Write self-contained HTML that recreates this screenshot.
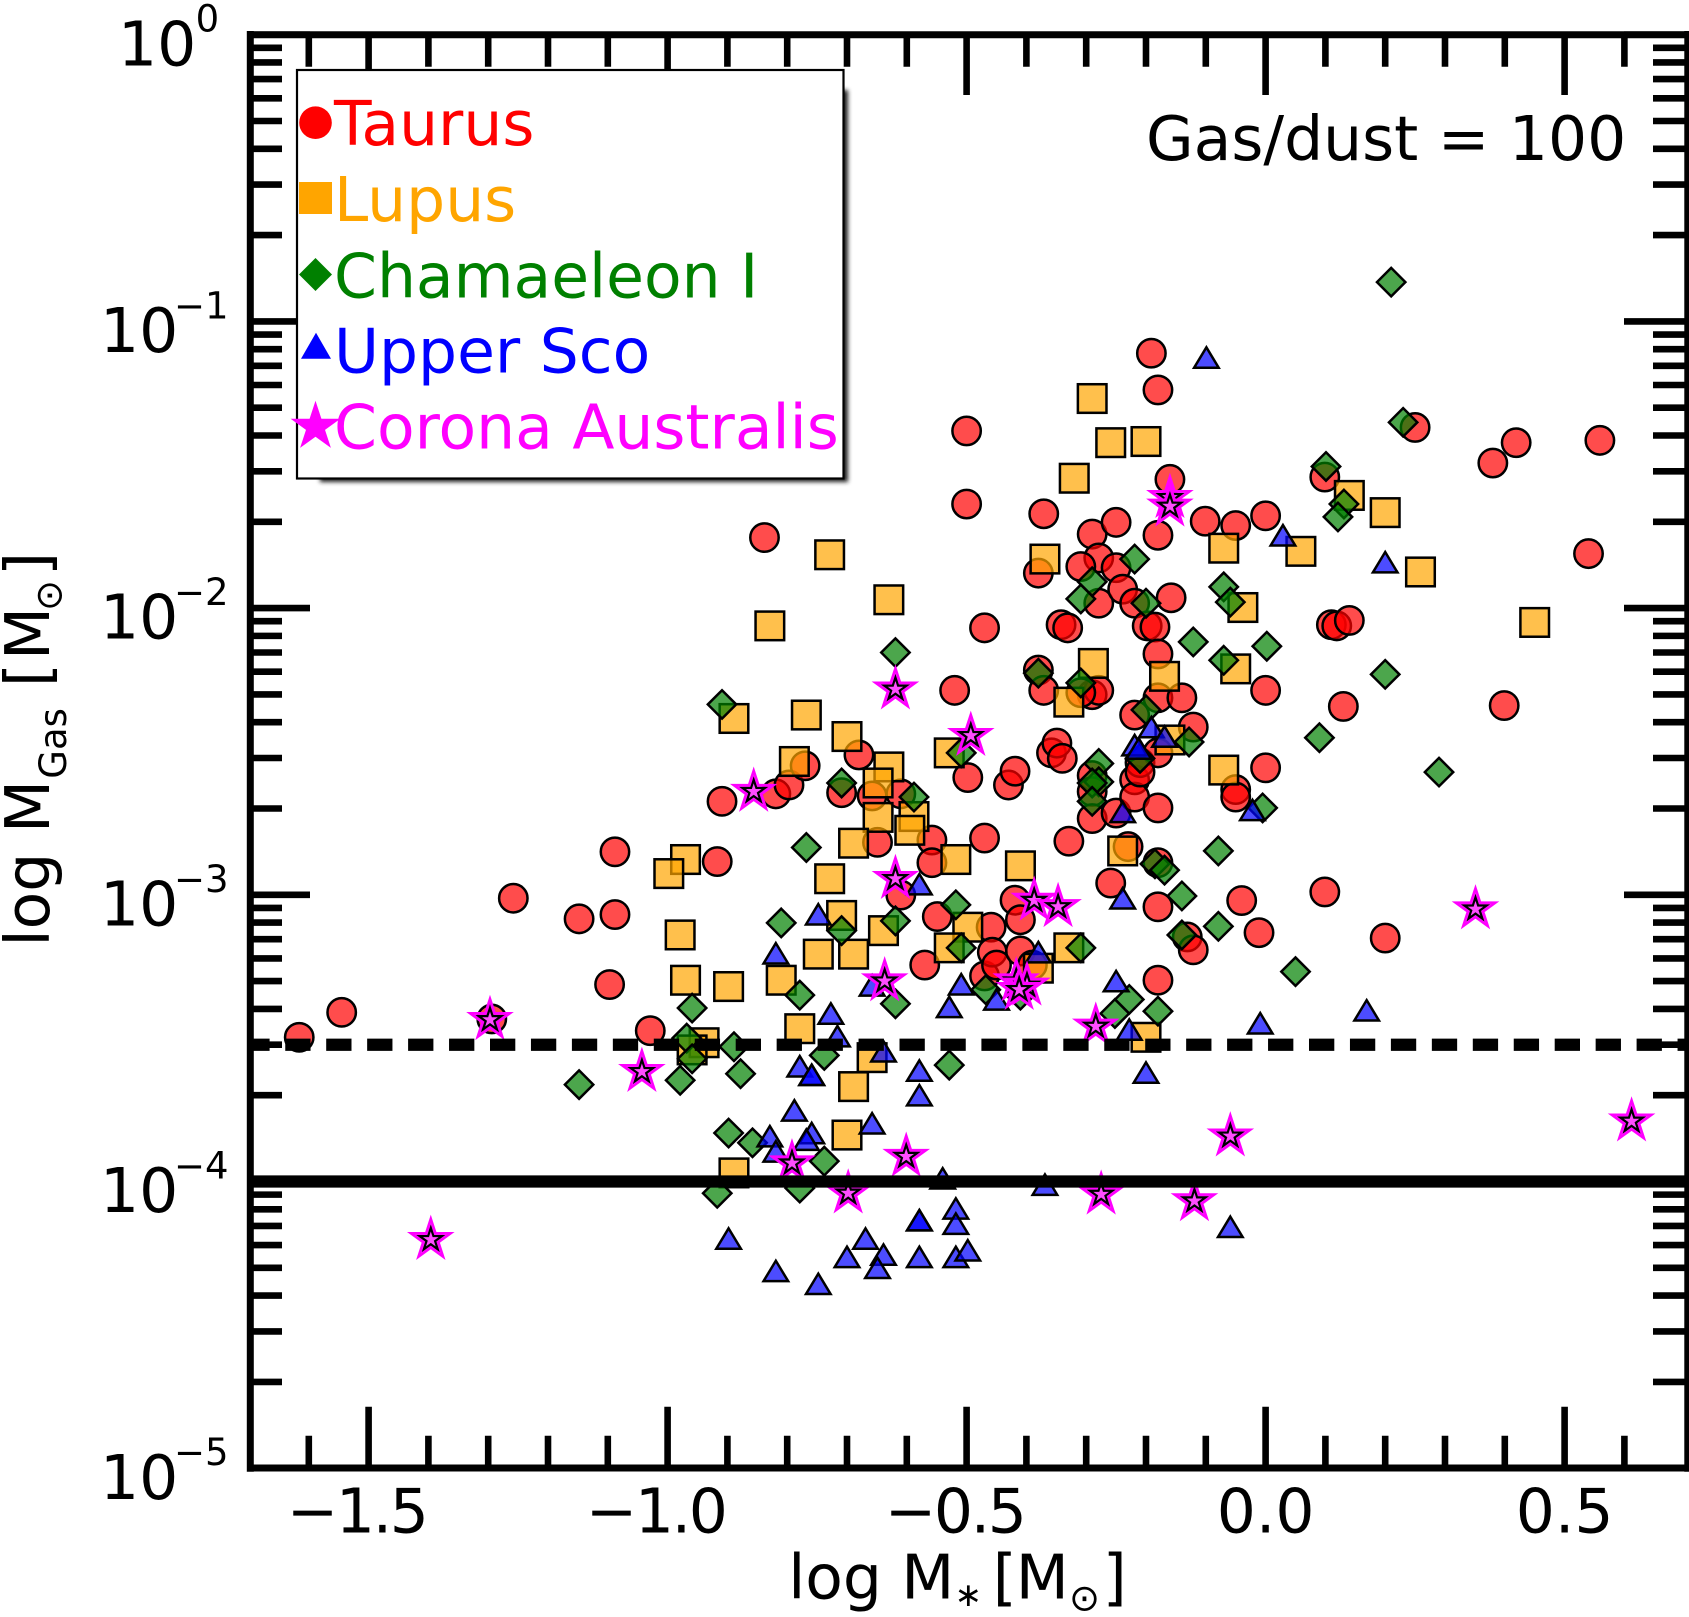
<!DOCTYPE html>
<html lang="en">
<head>
<meta charset="utf-8">
<title>Gas mass versus stellar mass</title>
<style>
html,body{margin:0;padding:0;background:#fff;width:1689px;height:1617px;overflow:hidden}
svg{display:block}
text{font-family:"DejaVu Sans","Liberation Sans",sans-serif;fill:#000}
</style>
</head>
<body>
<svg id="chart" xmlns="http://www.w3.org/2000/svg" width="1689" height="1617" viewBox="0 0 1689 1617">
  <defs>
    <filter id="shadow-blur" x="-5%" y="-5%" width="110%" height="110%"><feGaussianBlur stdDeviation="2.2"/></filter>
  </defs>
  <rect x="0" y="0" width="1689" height="1617" fill="#fff"/>
  <g id="ticks"></g>
  <g id="marks"></g>
  <g id="refs"></g>
  <g id="ticklabels"></g>

  <g>
    <text x="788.2" y="1598.3" font-size="61.5">log</text>
    <text x="901.3" y="1598.3" font-size="61.5">M</text>
    <text x="954.5" y="1606" font-size="33">∗</text>
    <text x="992.7" y="1598.3" font-size="61.5">[</text>
    <text x="1015.7" y="1598.3" font-size="61.5">M</text>
    <text x="1069" y="1610.5" font-size="37">⊙</text>
    <text x="1102.7" y="1598.3" font-size="61.5">]</text>
  </g>
  <g transform="translate(49,0) rotate(-90)">
    <text x="-946.5" y="0" font-size="61.5">log</text>
    <text x="-833" y="0" font-size="61.5">M</text>
    <text x="-778.7" y="17" font-size="37">Gas</text>
    <text x="-687" y="0" font-size="61.5">[</text>
    <text x="-660" y="0" font-size="61.5">M</text>
    <text x="-611" y="12.5" font-size="37">⊙</text>
    <text x="-576" y="0" font-size="61.5">]</text>
  </g>

  <text x="1146" y="160" font-size="61.5">Gas/dust = 100</text>

  <g>
    <rect x="320" y="90" width="528" height="392" fill="#222" filter="url(#shadow-blur)"/>
    <rect x="297" y="70" width="546.5" height="408.5" fill="#fff" stroke="#000" stroke-width="2.2"/>
    <g>
      <circle cx="315.5" cy="122.7" r="16.3" fill="#ff0000"/>
      <text x="334" y="145" font-size="61.5" style="fill:#ff0000">Taurus</text>
    </g>
    <g>
      <rect x="299" y="182" width="33" height="32" fill="#ffa500"/>
      <text x="334" y="221" font-size="61.5" style="fill:#ffa500">Lupus</text>
    </g>
    <g>
      <polygon points="315.5,258 332,274.5 315.5,291 299,274.5" fill="#008000"/>
      <text x="334" y="297.5" font-size="61.5" style="fill:#008000">Chamaeleon I</text>
    </g>
    <g>
      <polygon points="316,332.7 331,358.7 301,358.7" fill="#0000ff"/>
      <text x="334" y="372.5" font-size="61.5" style="fill:#0000ff">Upper Sco</text>
    </g>
    <g>
      <polygon points="315.5,400.7 321.4,418.7 340.4,418.7 325,429.9 330.9,447.9 315.5,436.8 300.1,447.9 306,429.9 290.6,418.7 309.6,418.7" fill="#ff00ff"/>
      <text x="334" y="448.3" font-size="61.5" style="fill:#ff00ff">Corona Australis</text>
    </g>
  </g>

  <g fill="none" stroke="#000" stroke-width="7">
    <line x1="250.3" y1="31" x2="250.3" y2="1471.7"/>
    <line x1="1687.8" y1="31" x2="1687.8" y2="1471.7"/>
    <line x1="247" y1="34.7" x2="1689" y2="34.7"/>
    <line x1="247" y1="1468" x2="1689" y2="1468"/>
  </g>
</svg>

<script>
// ---- Chart data (log stellar mass, log gas mass) ----
const taurusMass = [-1.616,-1.545,-1.294,-1.258,-1.148,-1.097,-1.088,-1.088,-1.029,-0.917,-0.909,-0.838,-0.819,-0.797,-0.770,-0.709,-0.680,-0.658,-0.649,-0.610,-0.610,-0.558,-0.558,-0.549,-0.570,-0.520,-0.500,-0.500,-0.498,-0.470,-0.470,-0.459,-0.470,-0.457,-0.450,-0.430,-0.419,-0.419,-0.410,-0.410,-0.390,-0.380,-0.380,-0.371,-0.371,-0.358,-0.349,-0.340,-0.342,-0.331,-0.329,-0.290,-0.290,-0.279,-0.309,-0.279,-0.250,-0.250,-0.239,-0.219,-0.279,-0.290,-0.290,-0.290,-0.250,-0.259,-0.230,-0.219,-0.219,-0.219,-0.210,-0.180,-0.180,-0.180,-0.180,-0.198,-0.185,-0.180,-0.180,-0.140,-0.121,-0.180,-0.160,-0.158,-0.180,-0.191,-0.101,-0.050,0.000,-0.050,-0.050,0.000,0.000,-0.040,-0.011,-0.131,-0.121,0.099,0.200,0.099,0.110,0.119,0.140,0.130,0.250,0.380,0.419,0.399,0.540,0.559,-0.180,-0.309,-0.210];
const taurusGas = [-3.497,-3.410,-3.433,-3.012,-3.084,-3.313,-3.069,-2.850,-3.474,-2.884,-2.674,-1.754,-2.648,-2.617,-2.550,-2.644,-2.512,-2.655,-2.817,-2.648,-3.001,-2.809,-2.888,-3.076,-3.245,-2.287,-1.382,-1.637,-2.591,-2.069,-2.802,-3.113,-3.283,-3.200,-3.245,-2.617,-2.569,-3.019,-3.087,-3.196,-3.245,-1.878,-2.216,-1.671,-2.287,-2.505,-2.471,-2.524,-2.058,-2.069,-2.813,-2.302,-1.742,-1.825,-1.855,-1.983,-1.701,-1.859,-1.934,-1.983,-2.287,-2.584,-2.640,-2.734,-2.715,-2.959,-2.832,-2.373,-2.599,-2.659,-2.539,-2.505,-2.697,-3.042,-3.298,-2.062,-2.066,-2.160,-2.313,-2.313,-2.415,-1.746,-1.551,-1.964,-1.239,-1.111,-1.697,-1.712,-1.678,-2.633,-2.659,-2.287,-2.557,-3.020,-3.132,-3.147,-3.192,-2.990,-3.151,-1.543,-2.058,-2.062,-2.043,-2.343,-1.370,-1.494,-1.423,-2.340,-1.810,-1.415,-2.888,-2.295,-2.572];

const lupusMass = [-0.290,-0.259,-0.200,-0.320,-0.070,0.059,0.140,0.200,0.259,-0.038,0.450,-0.369,-0.729,-0.630,-0.829,-0.288,-0.050,-0.329,-0.169,-0.889,-0.768,-0.700,-0.788,-0.630,-0.648,-0.529,-0.160,-0.070,-0.648,-0.588,-0.595,-0.689,-0.518,-0.410,-0.239,-0.970,-0.998,-0.729,-0.709,-0.639,-0.979,-0.498,-0.529,-0.329,-0.748,-0.689,-0.380,-0.970,-0.898,-0.810,-0.779,-0.939,-0.959,-0.200,-0.658,-0.689,-0.700,-0.889];
const lupusGas = [-1.269,-1.423,-1.419,-1.547,-1.791,-1.802,-1.607,-1.667,-1.874,-1.998,-2.050,-1.829,-1.814,-1.971,-2.062,-2.193,-2.212,-2.328,-2.238,-2.385,-2.373,-2.448,-2.535,-2.554,-2.610,-2.505,-2.460,-2.565,-2.730,-2.727,-2.775,-2.820,-2.877,-2.899,-2.847,-2.877,-2.926,-2.944,-3.072,-3.125,-3.140,-3.113,-3.185,-3.185,-3.207,-3.207,-3.256,-3.298,-3.320,-3.298,-3.467,-3.516,-3.541,-3.497,-3.568,-3.669,-3.838,-3.970];

const chamaeleonMass = [0.210,0.230,0.101,0.131,0.121,-0.219,-0.290,-0.309,-0.200,-0.121,-0.070,-0.059,-0.070,0.002,0.200,0.090,0.290,-0.619,-0.909,-0.380,-0.309,-0.200,-0.128,-0.509,-0.279,-0.279,-0.290,-0.290,-0.210,-0.709,-0.588,-0.768,-0.079,-0.005,-0.185,-0.169,-0.140,-0.518,-0.810,-0.709,-0.619,-0.079,-0.140,-0.509,-0.309,-0.779,-0.959,-0.619,-0.468,-0.410,-0.228,-0.252,-0.180,0.050,-0.968,-0.889,-0.959,-0.878,-0.738,-0.979,-0.529,-1.148,-0.898,-0.858,-0.738,-0.917,-0.779];
const chamaeleonGas = [-0.863,-1.352,-1.506,-1.637,-1.682,-1.829,-1.908,-1.968,-1.983,-2.118,-1.926,-1.979,-2.182,-2.133,-2.231,-2.452,-2.572,-2.155,-2.336,-2.227,-2.261,-2.355,-2.467,-2.505,-2.542,-2.606,-2.610,-2.674,-2.524,-2.610,-2.659,-2.835,-2.847,-2.697,-2.892,-2.914,-3.004,-3.035,-3.098,-3.125,-3.091,-3.110,-3.140,-3.185,-3.185,-3.350,-3.395,-3.380,-3.331,-3.350,-3.365,-3.414,-3.406,-3.268,-3.500,-3.530,-3.572,-3.624,-3.560,-3.647,-3.594,-3.662,-3.831,-3.865,-3.929,-4.041,-4.023];

const upperScoMass = [-0.099,0.029,0.200,-0.191,-0.169,-0.219,-0.212,-0.239,-0.022,-0.579,-0.239,-0.748,-0.819,-0.380,-0.509,-0.529,-0.450,-0.658,-0.250,-0.727,-0.716,-0.228,-0.639,-0.779,-0.759,-0.759,-0.579,-0.579,-0.200,-0.009,0.169,-0.788,-0.658,-0.829,-0.759,-0.768,-0.819,-0.540,-0.369,-0.518,-0.518,-0.579,-0.579,-0.898,-0.669,-0.700,-0.639,-0.579,-0.518,-0.498,-0.649,-0.819,-0.748,-0.059];
const upperScoGas = [-1.126,-1.746,-1.840,-2.415,-2.448,-2.478,-2.490,-2.711,-2.704,-2.963,-3.012,-3.068,-3.204,-3.200,-3.312,-3.391,-3.365,-3.316,-3.301,-3.414,-3.493,-3.470,-3.546,-3.598,-3.628,-3.628,-3.613,-3.699,-3.620,-3.448,-3.403,-3.752,-3.797,-3.842,-3.831,-3.854,-3.895,-3.989,-4.011,-4.094,-4.147,-4.135,-4.135,-4.199,-4.199,-4.263,-4.255,-4.263,-4.263,-4.240,-4.301,-4.312,-4.357,-4.158];

const coronaMass = [-1.396,-1.297,-1.043,-0.856,-0.792,-0.698,-0.637,-0.619,-0.619,-0.601,-0.493,-0.417,-0.399,-0.412,-0.387,-0.347,-0.284,-0.275,-0.160,-0.160,-0.119,-0.059,0.351,0.612];
const coronaGas = [-4.203,-3.436,-3.617,-2.640,-3.936,-4.041,-3.301,-2.283,-2.944,-3.913,-2.445,-3.301,-3.316,-3.331,-3.020,-3.042,-3.459,-4.045,-1.615,-1.645,-4.068,-3.842,-3.050,-3.790];

// Reference levels (log gas mass)
const solidLevel = -4;
const dashedLevel = -3.523;

// Tick definitions
const xMajorTicks = [-1.5,-1.0,-0.5,0.0,0.5];
const xMinorTicks = [-1.6,-1.4,-1.3,-1.2,-1.1,-0.9,-0.8,-0.7,-0.6,-0.4,-0.3,-0.2,-0.1,0.1,0.2,0.3,0.4,0.6];
const xTickLabels = ["−1.5","−1.0","−0.5","0.0","0.5"];
const yMajorTicks = [0,-1,-2,-3,-4,-5];
const yTickExponents = ["0","−1","−2","−3","−4","−5"];
const yMinorFactors = [2,3,4,5,6,7,8,9];

// ---- Axis functions ----
function xScale(v){ return 1265.6 + 598 * v; }
function yScale(v){ return 34.7 - 286.7 * v; }

const NS = "http://www.w3.org/2000/svg";
const ticksG = document.getElementById("ticks");
const marksG = document.getElementById("marks");
const refsG = document.getElementById("refs");
const labelsG = document.getElementById("ticklabels");

function make(tag, parent, attrs){
  const el = document.createElementNS(NS, tag);
  for (const k in attrs) el.setAttribute(k, attrs[k]);
  parent.appendChild(el);
  return el;
}
function starPoints(cx, cy, R){
  const pts = [];
  for (let i = 0; i < 10; i++){
    const rad = i % 2 === 0 ? R : R * 0.382;
    const a = -Math.PI / 2 + i * Math.PI / 5;
    pts.push((cx + rad * Math.cos(a)).toFixed(2) + "," + (cy + rad * Math.sin(a)).toFixed(2));
  }
  return pts.join(" ");
}

// ---- Ticks ----
const tickStyle = {stroke:"#000","stroke-width":6.6};
function hTick(parent, x1, x2, y, name){
  const el = make("line", parent, Object.assign({x1:x1,x2:x2,y1:y,y2:y}, tickStyle));
  
  
}
function vTick(parent, x, y1, y2, name){
  const el = make("line", parent, Object.assign({x1:x,x2:x,y1:y1,y2:y2}, tickStyle));
  
  
}
xMajorTicks.forEach(function(v){
  vTick(ticksG, xScale(v), 34.7, 95, 'x-major-tick-top');
  vTick(ticksG, xScale(v), 1468, 1406.7, 'x-major-tick-bottom');
});
xMinorTicks.forEach(function(v){
  vTick(ticksG, xScale(v), 34.7, 66.7, 'x-minor-tick-top');
  vTick(ticksG, xScale(v), 1468, 1435.7, 'x-minor-tick-bottom');
});
yMajorTicks.forEach(function(v){
  hTick(ticksG, 250.3, 310, yScale(v), 'y-major-tick-left');
  hTick(ticksG, 1687.8, 1624, yScale(v), 'y-major-tick-right');
  if (v > -5){
    yMinorFactors.forEach(function(f){
      const ly = v - 1 + Math.log10(f);
      hTick(ticksG, 250.3, 282, yScale(ly), 'y-minor-tick-left');
      hTick(ticksG, 1687.8, 1653, yScale(ly), 'y-minor-tick-right');
    });
  }
});

// ---- Series ----
const strokeW = 2.5;
const taurusG = make("g", marksG, {});


taurusMass.forEach(function(m, i){
  const el = make("circle", taurusG, {cx:xScale(m), cy:yScale(taurusGas[i]), r:14.2, fill:"#ff0000","fill-opacity":0.7, stroke:"#000","stroke-width":strokeW});
  
  
});
const lupusG = make("g", marksG, {});


lupusMass.forEach(function(m, i){
  const cx = xScale(m), cy = yScale(lupusGas[i]);
  const el = make("rect", lupusG, {x:cx-14.3, y:cy-14.3, width:28.6, height:28.6, fill:"#ffa500","fill-opacity":0.7, stroke:"#000","stroke-width":strokeW});
  
  
});
const chamG = make("g", marksG, {});


chamaeleonMass.forEach(function(m, i){
  const cx = xScale(m), cy = yScale(chamaeleonGas[i]), d = 14.2;
  const pts = cx+","+(cy-d)+" "+(cx+d)+","+cy+" "+cx+","+(cy+d)+" "+(cx-d)+","+cy;
  const el = make("polygon", chamG, {points:pts, fill:"#008000","fill-opacity":0.7, stroke:"#000","stroke-width":strokeW});
  
  
});
const scoG = make("g", marksG, {});


upperScoMass.forEach(function(m, i){
  const cx = xScale(m), cy = yScale(upperScoGas[i]);
  const pts = cx+","+(cy-10.2)+" "+(cx+12.3)+","+(cy+10.2)+" "+(cx-12.3)+","+(cy+10.2);
  const el = make("polygon", scoG, {points:pts, fill:"#0000ff","fill-opacity":0.7, stroke:"#000","stroke-width":strokeW});
  
  
});
const coronaG = make("g", marksG, {});


coronaMass.forEach(function(m, i){
  const cx = xScale(m), cy = yScale(coronaGas[i]);
  const outer = make("polygon", coronaG, {points:starPoints(cx,cy,21), fill:"#ff00ff","fill-opacity":0.85, stroke:"#ff00ff","stroke-width":2.5,"stroke-miterlimit":10});
  
  
  const inner = make("polygon", coronaG, {points:starPoints(cx,cy,11.8), fill:"#ff4dff", stroke:"#000","stroke-width":2.2,"stroke-miterlimit":10});
  
  
});

// ---- Reference lines ----
const solidLine = make("line", refsG, {x1:250.3, x2:1689, y1:yScale(solidLevel), y2:yScale(solidLevel), stroke:"#000","stroke-width":12.3});


const dashLine = make("line", refsG, {x1:250.3, x2:1689, y1:yScale(dashedLevel), y2:yScale(dashedLevel), stroke:"#000","stroke-width":12.3,"stroke-dasharray":"25.3 15.65","stroke-dashoffset":6});



// ---- Tick labels ----
xMajorTicks.forEach(function(v, i){
  const off = v < 0 ? -12 : 0;
  const el = make("text", labelsG, {x:xScale(v)+off, y:1532.7, "font-size":61.5, "text-anchor":"middle"});
  el.textContent = xTickLabels[i];
  if (v < 0) el.style.letterSpacing = "-2.4px";
  
  
});
yMajorTicks.forEach(function(v, i){
  const base = yScale(v) + 30.6;
  const isZero = v === 0;
  const t = make("text", labelsG, {x:isZero ? 118 : 100, y:base, "font-size":61.5});
  t.textContent = "10";
  
  
  const s = make("text", labelsG, {x:isZero ? 195.6 : 174, y:base-33.6, "font-size":37});
  s.textContent = yTickExponents[i];
  
  
});
</script>
</body>
</html>
